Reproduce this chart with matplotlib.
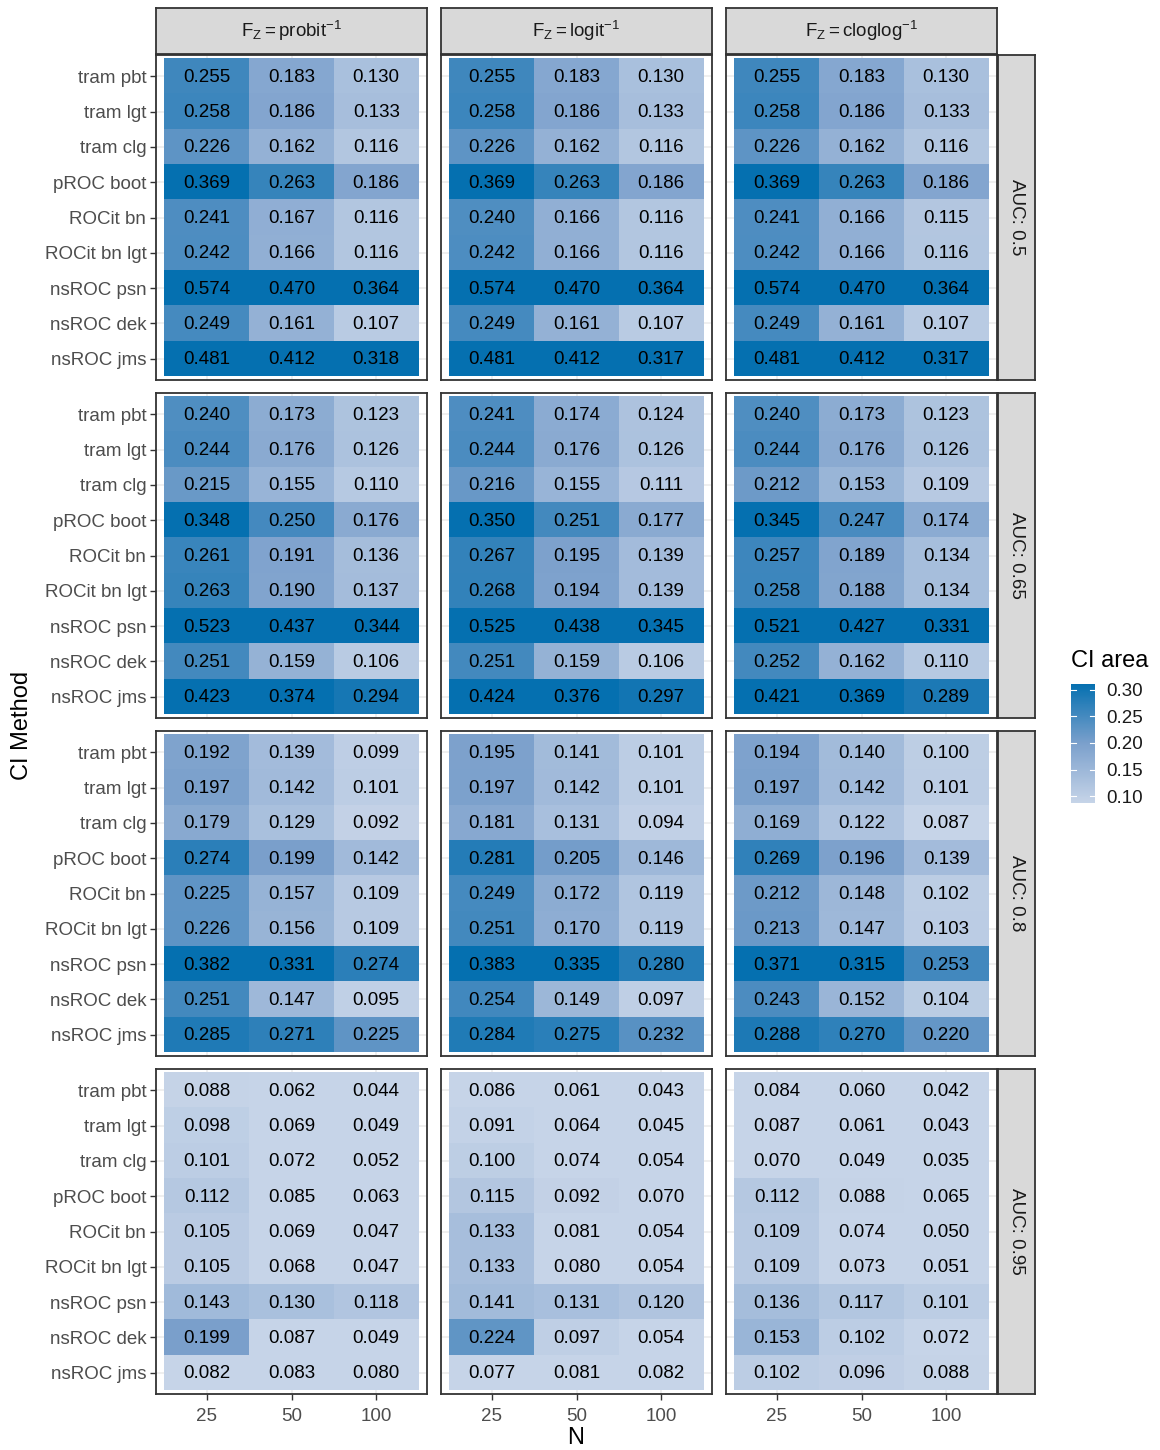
import numpy as np
import matplotlib
matplotlib.use("Agg")
import matplotlib.pyplot as plt
from matplotlib.colors import LinearSegmentedColormap, Normalize
from matplotlib.cm import ScalarMappable

plt.rcParams['font.family'] = ['Liberation Sans', 'DejaVu Sans']
plt.rcParams['mathtext.fontset'] = 'custom'
plt.rcParams['mathtext.rm'] = 'Liberation Sans'
plt.rcParams['mathtext.it'] = 'Liberation Sans:italic'

methods = ['tram pbt', 'tram lgt', 'tram clg', 'pROC boot', 'ROCit bn',
           'ROCit bn lgt', 'nsROC psn', 'nsROC dek', 'nsROC jms']
n_vals = ['25', '50', '100']
links = [r'$\mathrm{F_Z = probit^{-1}}$', r'$\mathrm{F_Z = logit^{-1}}$',
         r'$\mathrm{F_Z = cloglog^{-1}}$']
aucs = ['AUC: 0.5', 'AUC: 0.65', 'AUC: 0.8', 'AUC: 0.95']

# CI area, rows = methods, cols = N
auc05_probit = [[.255, .183, .130], [.258, .186, .133], [.226, .162, .116],
                [.369, .263, .186], [.241, .167, .116], [.242, .166, .116],
                [.574, .470, .364], [.249, .161, .107], [.481, .412, .318]]
auc05_logit = [[.255, .183, .130], [.258, .186, .133], [.226, .162, .116],
               [.369, .263, .186], [.240, .166, .116], [.242, .166, .116],
               [.574, .470, .364], [.249, .161, .107], [.481, .412, .317]]
auc05_cloglog = [[.255, .183, .130], [.258, .186, .133], [.226, .162, .116],
                 [.369, .263, .186], [.241, .166, .115], [.242, .166, .116],
                 [.574, .470, .364], [.249, .161, .107], [.481, .412, .317]]

auc065_probit = [[.240, .173, .123], [.244, .176, .126], [.215, .155, .110],
                 [.348, .250, .176], [.261, .191, .136], [.263, .190, .137],
                 [.523, .437, .344], [.251, .159, .106], [.423, .374, .294]]
auc065_logit = [[.241, .174, .124], [.244, .176, .126], [.216, .155, .111],
                [.350, .251, .177], [.267, .195, .139], [.268, .194, .139],
                [.525, .438, .345], [.251, .159, .106], [.424, .376, .297]]
auc065_cloglog = [[.240, .173, .123], [.244, .176, .126], [.212, .153, .109],
                  [.345, .247, .174], [.257, .189, .134], [.258, .188, .134],
                  [.521, .427, .331], [.252, .162, .110], [.421, .369, .289]]

auc08_probit = [[.192, .139, .099], [.197, .142, .101], [.179, .129, .092],
                [.274, .199, .142], [.225, .157, .109], [.226, .156, .109],
                [.382, .331, .274], [.251, .147, .095], [.285, .271, .225]]
auc08_logit = [[.195, .141, .101], [.197, .142, .101], [.181, .131, .094],
               [.281, .205, .146], [.249, .172, .119], [.251, .170, .119],
               [.383, .335, .280], [.254, .149, .097], [.284, .275, .232]]
auc08_cloglog = [[.194, .140, .100], [.197, .142, .101], [.169, .122, .087],
                 [.269, .196, .139], [.212, .148, .102], [.213, .147, .103],
                 [.371, .315, .253], [.243, .152, .104], [.288, .270, .220]]

auc095_probit = [[.088, .062, .044], [.098, .069, .049], [.101, .072, .052],
                 [.112, .085, .063], [.105, .069, .047], [.105, .068, .047],
                 [.143, .130, .118], [.199, .087, .049], [.082, .083, .080]]
auc095_logit = [[.086, .061, .043], [.091, .064, .045], [.100, .074, .054],
                [.115, .092, .070], [.133, .081, .054], [.133, .080, .054],
                [.141, .131, .120], [.224, .097, .054], [.077, .081, .082]]
auc095_cloglog = [[.084, .060, .042], [.087, .061, .043], [.070, .049, .035],
                  [.112, .088, .065], [.109, .074, .050], [.109, .073, .051],
                  [.136, .117, .101], [.153, .102, .072], [.102, .096, .088]]

grid_data = [[auc05_probit, auc05_logit, auc05_cloglog],
             [auc065_probit, auc065_logit, auc065_cloglog],
             [auc08_probit, auc08_logit, auc08_cloglog],
             [auc095_probit, auc095_logit, auc095_cloglog]]

cmap = LinearSegmentedColormap.from_list(
    'ci', [(0, '#C6D4E8'), (0.5, '#7BA0CC'), (1, '#0570B0')])
norm = Normalize(vmin=0.087, vmax=0.311, clip=True)

W, H = 1160, 1450
fig = plt.figure(figsize=(W / 100, H / 100), dpi=100)

def px_axes(x, y, w, h):
    return fig.add_axes([x / W, 1 - (y + h) / H, w / W, h / H])

col_x = [156, 441, 726]
row_y = [55, 393, 731, 1069]
pw, ph = 271, 325
border = '#333333'
strip_fill = '#D9D9D9'

for r in range(4):
    for c in range(3):
        ax = px_axes(col_x[c], row_y[r], pw, ph)
        arr = np.array(grid_data[r][c])
        ax.imshow(arr, cmap=cmap, norm=norm, aspect='auto', zorder=2)
        for i in range(arr.shape[0]):
            for j in range(arr.shape[1]):
                ax.text(j, i + 0.03, f'{arr[i, j]:.3f}', ha='center', va='center',
                        fontsize=13.5, color='black', zorder=3)
        ax.set_xlim(-0.6, 2.6)
        ax.set_ylim(8.6, -0.6)
        ax.set_xticks(range(3))
        ax.set_yticks(range(9))
        ax.grid(True, color='#EBEBEB', lw=1.1, zorder=0)
        ax.set_axisbelow(True)
        for s in ax.spines.values():
            s.set_color(border)
            s.set_linewidth(1.3)
        ax.tick_params(length=4, color=border, width=1, labelsize=13.5,
                       labelcolor='#4D4D4D', pad=3)
        ax.tick_params(axis='x', pad=6)
        if c == 0:
            ax.set_yticklabels(methods)
        else:
            ax.tick_params(axis='y', length=0, labelleft=False)
        if r == 3:
            ax.set_xticklabels(n_vals)
        else:
            ax.tick_params(axis='x', length=0, labelbottom=False)

# top strips
for c in range(3):
    sa = px_axes(col_x[c], 8, pw, 46)
    sa.set_facecolor(strip_fill)
    sa.set_xticks([])
    sa.set_yticks([])
    for s in sa.spines.values():
        s.set_color(border)
        s.set_linewidth(1.3)
    sa.text(0.5, 0.5, links[c], ha='center', va='center', fontsize=13.5,
            color='#1A1A1A', transform=sa.transAxes)

# right strips
for r in range(4):
    sa = px_axes(998, row_y[r], 37, ph)
    sa.set_facecolor(strip_fill)
    sa.set_xticks([])
    sa.set_yticks([])
    for s in sa.spines.values():
        s.set_color(border)
        s.set_linewidth(1.3)
    sa.text(0.5, 0.5, aucs[r], ha='center', va='center', fontsize=13.5,
            color='#1A1A1A', rotation=-90, transform=sa.transAxes)

fig.text(22 / W, 1 - 725 / H, 'CI Method', rotation=90, ha='center',
         va='center', fontsize=17)
fig.text(576 / W, 1 - 1438 / H, 'N', ha='center', va='center', fontsize=17)

# colour bar
cax = px_axes(1071, 684, 24, 119)
sm = ScalarMappable(norm=norm, cmap=cmap)
cb = fig.colorbar(sm, cax=cax)
cb.outline.set_visible(False)
cb_ticks = [0.10, 0.15, 0.20, 0.25, 0.30]
cb.set_ticks(cb_ticks)
cb.set_ticklabels([f'{t:.2f}' for t in cb_ticks])
cax.tick_params(length=0, labelsize=13.5, pad=8, labelcolor='#1A1A1A')
for t in cb_ticks:
    cax.plot([0, 0.2], [t, t], color='white', lw=0.8, transform=cax.get_yaxis_transform())
    cax.plot([0.8, 1], [t, t], color='white', lw=0.8, transform=cax.get_yaxis_transform())
fig.text(1071 / W, 1 - 661 / H, 'CI area', ha='left', va='center', fontsize=17)

fig.savefig('out.png', dpi=100)
